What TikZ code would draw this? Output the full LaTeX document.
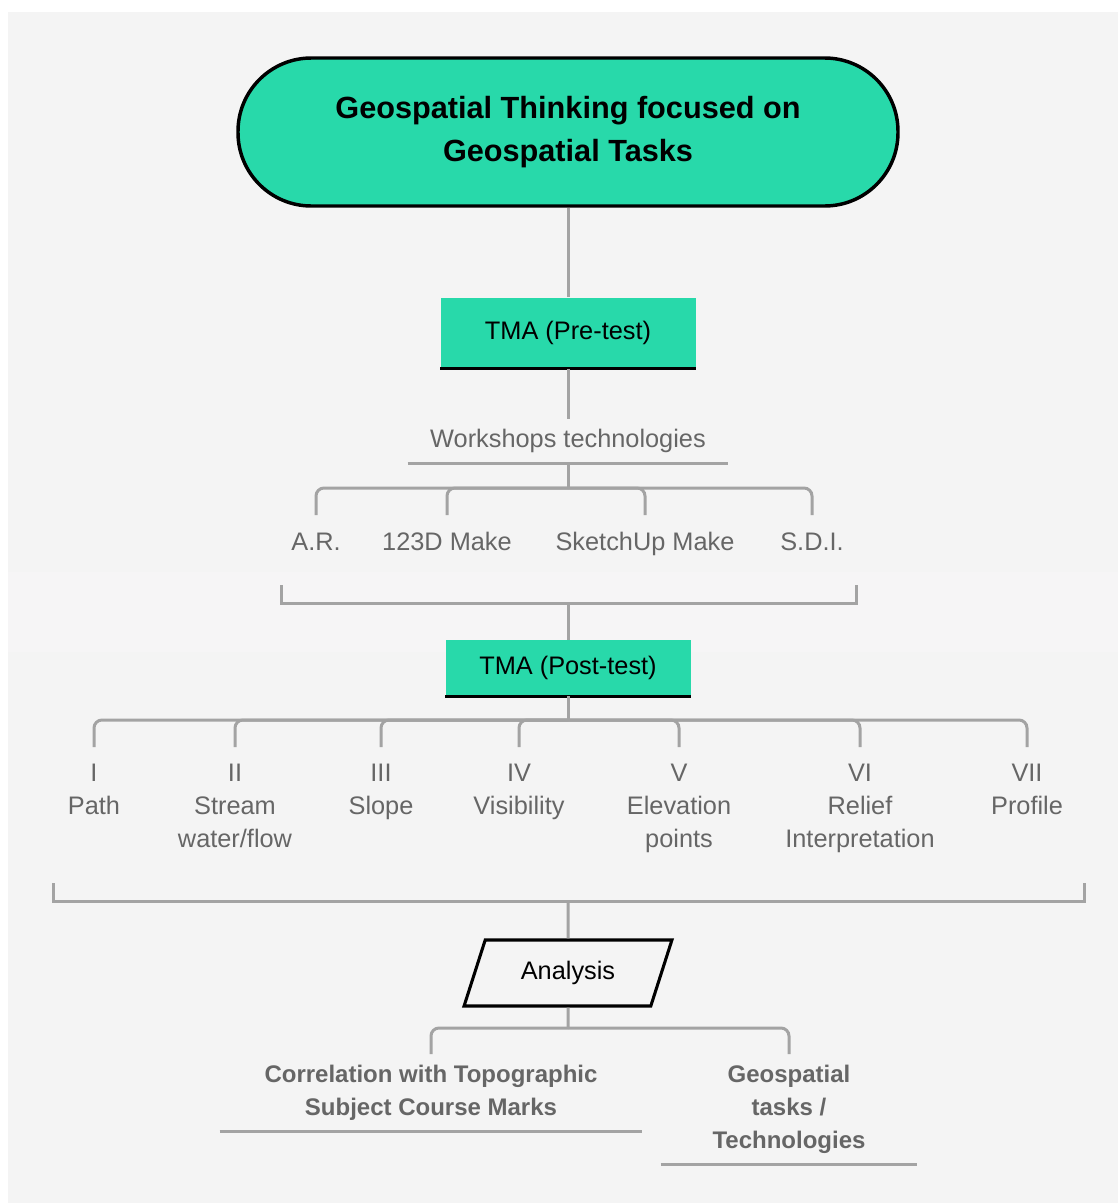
\documentclass[tikz,border=0pt]{standalone}
\usepackage{fontspec}
\setmainfont{Liberation Sans}
\usetikzlibrary{positioning,shapes.geometric}

\definecolor{mint}{HTML}{28D9AA}
\definecolor{paper}{HTML}{F4F4F4}
\definecolor{band}{HTML}{F6F5F6}
\definecolor{wire}{HTML}{A3A3A3}
\definecolor{ink}{HTML}{666666}

\begin{document}
\begin{tikzpicture}[
  x=0.75pt, y=-0.75pt,
  title/.style={draw, line width=2.6pt, fill=mint, rounded corners=55pt, align=center,
    minimum width=495pt, minimum height=111pt, font=\fontsize{23}{32.25}\selectfont\bfseries},
  tma/.style={fill=mint, inner sep=0pt, font=\fontsize{19}{24.75}\selectfont},
  lbl/.style={text=ink, align=center, inner sep=0pt, font=\fontsize{19}{24.75}\selectfont},
  blbl/.style={text=ink, align=center, inner xsep=0pt, inner ysep=7.5pt, font=\fontsize{18}{24.75}\selectfont\bfseries},
  link/.style={draw=wire, line width=2.25pt, rounded corners=6pt},
  bracket/.style={draw=wire, line width=2.25pt},
  edge/.style={line width=2.4pt}
]
  % page and background
  \useasboundingbox (0,0) rectangle (1118,1203);
  \fill[white] (0,0) rectangle (1118,1203);
  \fill[paper] (8,12) rectangle (1118,1203);
  \fill[band] (8,572) rectangle (1118,652);

  % top of the tree
  \node[title] (top) at (568,132) {Geospatial Thinking focused on\\Geospatial Tasks};
  \node[tma, minimum width=191.25pt, minimum height=53.25pt] (pre) at (568,333) {TMA (Pre-test)};
  \draw[edge] (pre.south west) -- (pre.south east);
  \draw[link] (top.south) -- (pre.north);

  % workshops
  \node[lbl, anchor=south, minimum width=240pt, inner ysep=7.5pt] (ws) at (568,463) {Workshops technologies};
  \draw[bracket] (ws.south west) -- (ws.south east);
  \draw[link] (pre.south) -- (ws.north);
  \coordinate (hubA) at (568,488);
  \coordinate (dropA) at (0,515);
  \node[lbl, anchor=base] (ar) at (316,550) {A.R.};
  \node[lbl, anchor=base] (mk) at (447,550) {123D Make};
  \node[lbl, anchor=base] (su) at (645,550) {SketchUp Make};
  \node[lbl, anchor=base] (sdi) at (812,550) {S.D.I.};
  \draw[link] (ws.south) -- (hubA);
  \foreach \t in {ar,mk,su,sdi}
    \draw[link] (hubA) -| (\t |- dropA);

  % collect and post-test
  \coordinate (bkAl) at (281,585);
  \coordinate (bkAm) at (568,603);
  \coordinate (bkAr) at (856,585);
  \draw[bracket] (bkAl) |- (bkAm) -| (bkAr);
  \node[tma, minimum width=183.75pt, minimum height=42pt] (post) at (568,668) {TMA (Post-test)};
  \draw[edge] (post.south west) -- (post.south east);
  \draw[link] (bkAm) -- (post.north);

  % geospatial tasks
  \coordinate (hubB) at (568,720);
  \coordinate (dropB) at (0,747);
  \node[lbl, anchor=north] (t1) at (94,764) {I\\Path};
  \node[lbl, anchor=north] (t2) at (235,764) {II\\Stream\\water/flow};
  \node[lbl, anchor=north] (t3) at (381,764) {III\\Slope};
  \node[lbl, anchor=north] (t4) at (519,764) {IV\\Visibility};
  \node[lbl, anchor=north] (t5) at (679,764) {V\\Elevation\\points};
  \node[lbl, anchor=north] (t6) at (860,764) {VI\\Relief\\Interpretation};
  \node[lbl, anchor=north] (t7) at (1027,764) {VII\\Profile};
  \draw[link] (post.south) -- (hubB);
  \foreach \t in {t1,t2,t3,t4,t5,t6,t7}
    \draw[link] (hubB) -| (\t |- dropB);

  % analysis
  \coordinate (bkBl) at (53,883);
  \coordinate (bkBm) at (568,901);
  \coordinate (bkBr) at (1084,883);
  \draw[bracket] (bkBl) |- (bkBm) -| (bkBr);
  \node[draw, line width=2.3pt, trapezium, trapezium stretches=true,
    trapezium left angle=63, trapezium right angle=117,
    minimum width=156.75pt, minimum height=49.5pt, inner sep=0pt,
    font=\fontsize{19}{24.75}\selectfont] (ana) at (568,973) {Analysis};
  \draw[link] (bkBm) -- (ana.north);

  % results
  \coordinate (hubC) at (568,1028);
  \coordinate (dropC) at (0,1054);
  \node[blbl, anchor=south, minimum width=316.5pt] (corr) at (431,1131) {Correlation with Topographic\\Subject Course Marks};
  \node[blbl, anchor=south, minimum width=192pt] (geo) at (789,1164) {Geospatial\\tasks /\\Technologies};
  \draw[bracket] (corr.south west) -- (corr.south east);
  \draw[bracket] (geo.south west) -- (geo.south east);
  \draw[link] (ana.south) -- (hubC);
  \draw[link] (hubC) -| (corr.north |- dropC);
  \draw[link] (hubC) -| (geo.north |- dropC);
\end{tikzpicture}
\end{document}
